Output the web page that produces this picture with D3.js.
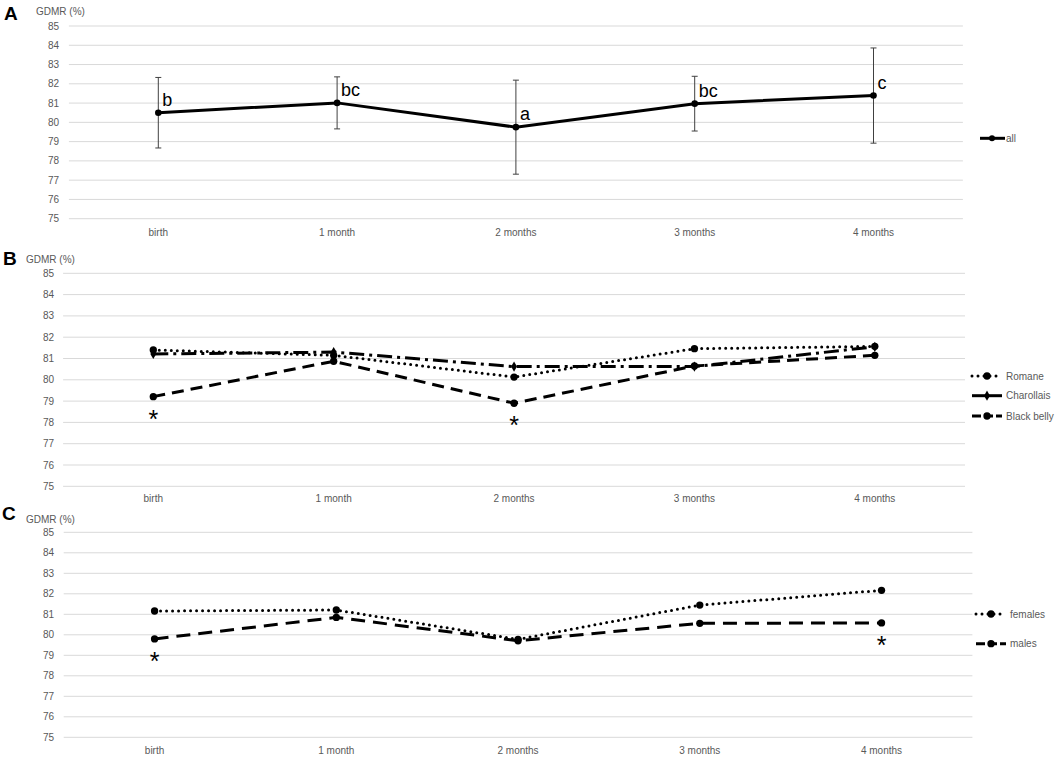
<!DOCTYPE html>
<html>
<head>
<meta charset="utf-8">
<script src="https://cdn.jsdelivr.net/npm/d3@7"></script>
<style>
  body { margin: 0; background: #fff; }
  text { font-family: "Liberation Sans", Arial, sans-serif; }
</style>
</head>
<body>
<div id="chart"></div>
<script>
var categories = ["birth", "1 month", "2 months", "3 months", "4 months"];
var yTicks = [75, 76, 77, 78, 79, 80, 81, 82, 83, 84, 85];

// panel A: all animals, mean +/- error
var allMean = [80.5, 81.01, 79.75, 80.97, 81.39];
var allErr = [1.83, 1.35, 2.44, 1.42, 2.47];
var allLetters = ["b", "bc", "a", "bc", "c"];

// panel B: breeds
var romane = [81.4, 81.15, 80.13, 81.46, 81.57];
var charollais = [81.21, 81.3, 80.62, 80.62, 81.55];
var blackBelly = [79.21, 80.87, 78.9, 80.65, 81.15];
var breedStars = ["birth", "2 months"];

// panel C: sex
var females = [81.16, 81.21, 79.78, 81.45, 82.17];
var males = [79.8, 80.85, 79.71, 80.56, 80.58];
var sexStars = ["birth", "4 months"];

var width = 1059;
var height = 760;

var svg = d3.select("#chart").append("svg")
  .attr("width", width)
  .attr("height", height);

var panels = [
  { letter: "A", top: 26, bottom: 218.7, left: 68.9, right: 962.9, tickX: 59, labelY: 232,
    titleX: 36, titleY: 11, letterX: 4, letterY: 20 },
  { letter: "B", top: 273.3, bottom: 486.3, left: 63.1, right: 965, tickX: 54, labelY: 498.7,
    titleX: 26, titleY: 259, letterX: 3, letterY: 265 },
  { letter: "C", top: 532.3, bottom: 737.3, left: 63.7, right: 972.4, tickX: 54, labelY: 750.7,
    titleX: 26, titleY: 519, letterX: 2, letterY: 520 }
];

function drawFrame(p) {
  var g = svg.append("g");
  var x = d3.scalePoint().domain(categories).range([p.left, p.right]).padding(0.5);
  var y = d3.scaleLinear().domain([75, 85]).range([p.bottom, p.top]);

  g.selectAll(".grid").data(yTicks).enter().append("line")
    .attr("x1", p.left).attr("x2", p.right)
    .attr("y1", function (d) { return y(d); })
    .attr("y2", function (d) { return y(d); })
    .attr("stroke", "#d9d9d9").attr("stroke-width", 1);

  g.selectAll(".ytick").data(yTicks).enter().append("text")
    .attr("x", p.tickX)
    .attr("y", function (d) { return y(d); })
    .attr("dy", "0.35em")
    .attr("text-anchor", "end")
    .attr("font-size", 10)
    .attr("fill", "#595959")
    .text(function (d) { return d; });

  g.selectAll(".xtick").data(categories).enter().append("text")
    .attr("x", function (d) { return x(d); })
    .attr("y", p.labelY)
    .attr("dy", "0.35em")
    .attr("text-anchor", "middle")
    .attr("font-size", 10)
    .attr("fill", "#595959")
    .text(function (d) { return d; });

  g.append("text")
    .attr("x", p.titleX).attr("y", p.titleY).attr("dy", "0.35em")
    .attr("font-size", 10).attr("fill", "#595959")
    .text("GDMR (%)");

  g.append("text")
    .attr("x", p.letterX).attr("y", p.letterY)
    .attr("font-size", 19).attr("font-weight", "bold")
    .attr("fill", "#000")
    .text(p.letter);

  return { g: g, x: x, y: y };
}

function drawSeries(f, values, dash, legendY, legendX, name, marker) {
  var pts = categories.map(function (c, i) { return { c: c, v: values[i] }; });
  var line = d3.line()
    .x(function (d) { return f.x(d.c); })
    .y(function (d) { return f.y(d.v); });

  f.g.append("path")
    .datum(pts)
    .attr("d", line)
    .attr("fill", "none")
    .attr("stroke", "#000")
    .attr("stroke-width", 3)
    .attr("stroke-dasharray", dash.pattern)
    .attr("stroke-linecap", dash.cap);

  var sym = d3.symbol().type(marker === "diamond" ? d3.symbolDiamond : d3.symbolCircle)
    .size(marker === "diamond" ? 30 : 42);

  f.g.selectAll(null).data(pts).enter().append("path")
    .attr("d", sym)
    .attr("transform", function (d) { return "translate(" + f.x(d.c) + "," + f.y(d.v) + ")"; })
    .attr("fill", "#000");

  // legend
  var lx0 = legendX - 34, lx1 = legendX - 4, mx = legendX - 19;
  f.g.append("line")
    .attr("x1", lx0).attr("x2", lx1)
    .attr("y1", legendY).attr("y2", legendY)
    .attr("stroke", "#000").attr("stroke-width", 3)
    .attr("stroke-dasharray", dash.legend || dash.pattern)
    .attr("stroke-linecap", dash.cap);
  f.g.append("path")
    .attr("d", sym)
    .attr("transform", "translate(" + mx + "," + legendY + ")")
    .attr("fill", "#000");
  f.g.append("text")
    .attr("x", legendX).attr("y", legendY).attr("dy", "0.35em")
    .attr("font-size", 10).attr("fill", "#595959")
    .text(name);
}

function drawStars(f, values, cats) {
  f.g.selectAll(null).data(cats).enter().append("text")
    .attr("x", function (d) { return f.x(d); })
    .attr("y", function (d) { return f.y(values[categories.indexOf(d)]) + 31; })
    .attr("text-anchor", "middle")
    .attr("font-size", 25)
    .attr("fill", "#000")
    .text("*");
}

var dotted = { pattern: "0,6", cap: "round", legend: "0,6" };
var dashed = { pattern: "12,7", cap: "butt", legend: "9,3" };
var dashDot = { pattern: "15,5,3,5", cap: "butt", legend: "none" };
var dashedC = { pattern: "14,8", cap: "butt", legend: "9,3" };

// ---- panel A
var fa = drawFrame(panels[0]);
var ptsA = categories.map(function (c, i) { return { c: c, v: allMean[i], e: allErr[i], l: allLetters[i] }; });

fa.g.selectAll(".err").data(ptsA).enter().append("path")
  .attr("d", function (d) {
    var cx = fa.x(d.c), t = fa.y(d.v + d.e), b = fa.y(d.v - d.e);
    return "M" + cx + "," + t + "V" + b +
      "M" + (cx - 3) + "," + t + "H" + (cx + 3) +
      "M" + (cx - 3) + "," + b + "H" + (cx + 3);
  })
  .attr("stroke", "#404040").attr("stroke-width", 1).attr("fill", "none");

fa.g.append("path")
  .datum(ptsA)
  .attr("d", d3.line().x(function (d) { return fa.x(d.c); }).y(function (d) { return fa.y(d.v); }))
  .attr("fill", "none").attr("stroke", "#000").attr("stroke-width", 3);

fa.g.selectAll(".pt").data(ptsA).enter().append("circle")
  .attr("cx", function (d) { return fa.x(d.c); })
  .attr("cy", function (d) { return fa.y(d.v); })
  .attr("r", 3.3).attr("fill", "#000");

fa.g.selectAll(".lab").data(ptsA).enter().append("text")
  .attr("x", function (d) { return fa.x(d.c) + 4; })
  .attr("y", function (d) { return fa.y(d.v) - 7; })
  .attr("font-size", 18).attr("fill", "#000")
  .text(function (d) { return d.l; });

// legend A
fa.g.append("line").attr("x1", 980).attr("x2", 1005).attr("y1", 138.3).attr("y2", 138.3)
  .attr("stroke", "#000").attr("stroke-width", 3);
fa.g.append("circle").attr("cx", 992).attr("cy", 138.3).attr("r", 3).attr("fill", "#000");
fa.g.append("text").attr("x", 1006).attr("y", 138.3).attr("dy", "0.35em")
  .attr("font-size", 10).attr("fill", "#595959").text("all");

// ---- panel B
var fb = drawFrame(panels[1]);
drawSeries(fb, romane, dotted, 376, 1006, "Romane", "circle");
drawSeries(fb, charollais, dashDot, 395.7, 1006, "Charollais", "diamond");
drawSeries(fb, blackBelly, dashed, 416, 1006, "Black belly", "circle");
drawStars(fb, blackBelly, breedStars);

// ---- panel C
var fc = drawFrame(panels[2]);
drawSeries(fc, females, dotted, 614, 1010, "females", "circle");
drawSeries(fc, males, dashedC, 643.7, 1010, "males", "circle");
drawStars(fc, males, sexStars);
</script>
</body>
</html>
